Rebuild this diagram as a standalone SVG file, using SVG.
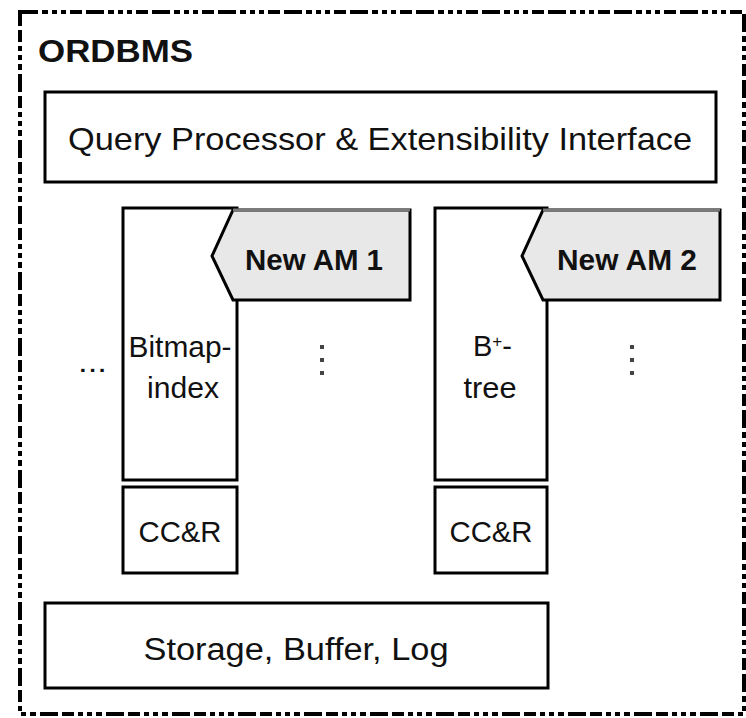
<svg xmlns="http://www.w3.org/2000/svg" width="746" height="718" viewBox="0 0 746 718">
<style>
  .box { fill: #ffffff; stroke: #000000; stroke-width: 3; }
  .tab { fill: #e8e8e8; stroke: #000000; stroke-width: 3; stroke-linejoin: miter; }
  .tabtop { stroke: #7a7a7a; stroke-width: 3; }
  .t { font-family: "Liberation Sans", Arial, sans-serif; fill: #111111; }
  .dot { fill: #444444; }
</style>
<rect width="746" height="718" fill="#ffffff"/>

<g id="ordbms">
  <rect x="20" y="12" width="724" height="702" fill="none" stroke="#000000" stroke-width="4" stroke-dasharray="18 4 6 4 5 4 5 4 12 4"/>
  <text class="t" x="38" y="62" font-size="32" font-weight="bold" textLength="155" lengthAdjust="spacingAndGlyphs">ORDBMS</text>
</g>

<g id="query-processor">
  <rect class="box" x="45" y="92" width="671" height="90"/>
  <text class="t" x="68" y="150" font-size="32" textLength="624" lengthAdjust="spacingAndGlyphs">Query Processor &amp; Extensibility Interface</text>
</g>

<g id="other-am">
  <text class="t" x="78" y="372" font-size="29" textLength="29" lengthAdjust="spacingAndGlyphs">...</text>
</g>

<g id="bitmap-index">
  <rect class="box" x="123" y="208" width="114" height="272"/>
  <text class="t" x="180" y="357" font-size="29" text-anchor="middle" textLength="103" lengthAdjust="spacingAndGlyphs">Bitmap-</text>
  <text class="t" x="183" y="398" font-size="29" text-anchor="middle" textLength="72" lengthAdjust="spacingAndGlyphs">index</text>
</g>

<g id="new-am-1">
  <polygon class="tab" points="233,210 410,210 410,300 233,300 212,256"/>
  <line class="tabtop" x1="233" y1="210" x2="410" y2="210"/>
  <text class="t" x="314" y="270" font-size="29" font-weight="bold" text-anchor="middle" textLength="138" lengthAdjust="spacingAndGlyphs">New AM 1</text>
</g>

<g id="vdots-1">
  <rect class="dot" x="320" y="345" width="4" height="4"/>
  <rect class="dot" x="320" y="358" width="4" height="4"/>
  <rect class="dot" x="320" y="371" width="4" height="4"/>
</g>

<g id="ccr-1">
  <rect class="box" x="123" y="487" width="114" height="86"/>
  <text class="t" x="180" y="542" font-size="29" text-anchor="middle" textLength="83" lengthAdjust="spacingAndGlyphs">CC&amp;R</text>
</g>

<g id="bplus-tree">
  <rect class="box" x="435" y="208" width="112" height="272"/>
  <text class="t" x="473" y="356" font-size="29">B<tspan font-size="17" dy="-9">+</tspan><tspan dy="9">-</tspan></text>
  <text class="t" x="490" y="398" font-size="29" text-anchor="middle" textLength="53" lengthAdjust="spacingAndGlyphs">tree</text>
</g>

<g id="new-am-2">
  <polygon class="tab" points="543,210 720,210 720,300 543,300 522,256"/>
  <line class="tabtop" x1="543" y1="210" x2="720" y2="210"/>
  <text class="t" x="627" y="270" font-size="29" font-weight="bold" text-anchor="middle" textLength="140" lengthAdjust="spacingAndGlyphs">New AM 2</text>
</g>

<g id="vdots-2">
  <rect class="dot" x="630" y="345" width="4" height="4"/>
  <rect class="dot" x="630" y="358" width="4" height="4"/>
  <rect class="dot" x="630" y="371" width="4" height="4"/>
</g>

<g id="ccr-2">
  <rect class="box" x="435" y="487" width="112" height="86"/>
  <text class="t" x="491" y="542" font-size="29" text-anchor="middle" textLength="83" lengthAdjust="spacingAndGlyphs">CC&amp;R</text>
</g>

<g id="storage">
  <rect class="box" x="45" y="603" width="503" height="85"/>
  <text class="t" x="296" y="660" font-size="31" text-anchor="middle" textLength="305" lengthAdjust="spacingAndGlyphs">Storage, Buffer, Log</text>
</g>

<g id="connectors"></g>
</svg>
